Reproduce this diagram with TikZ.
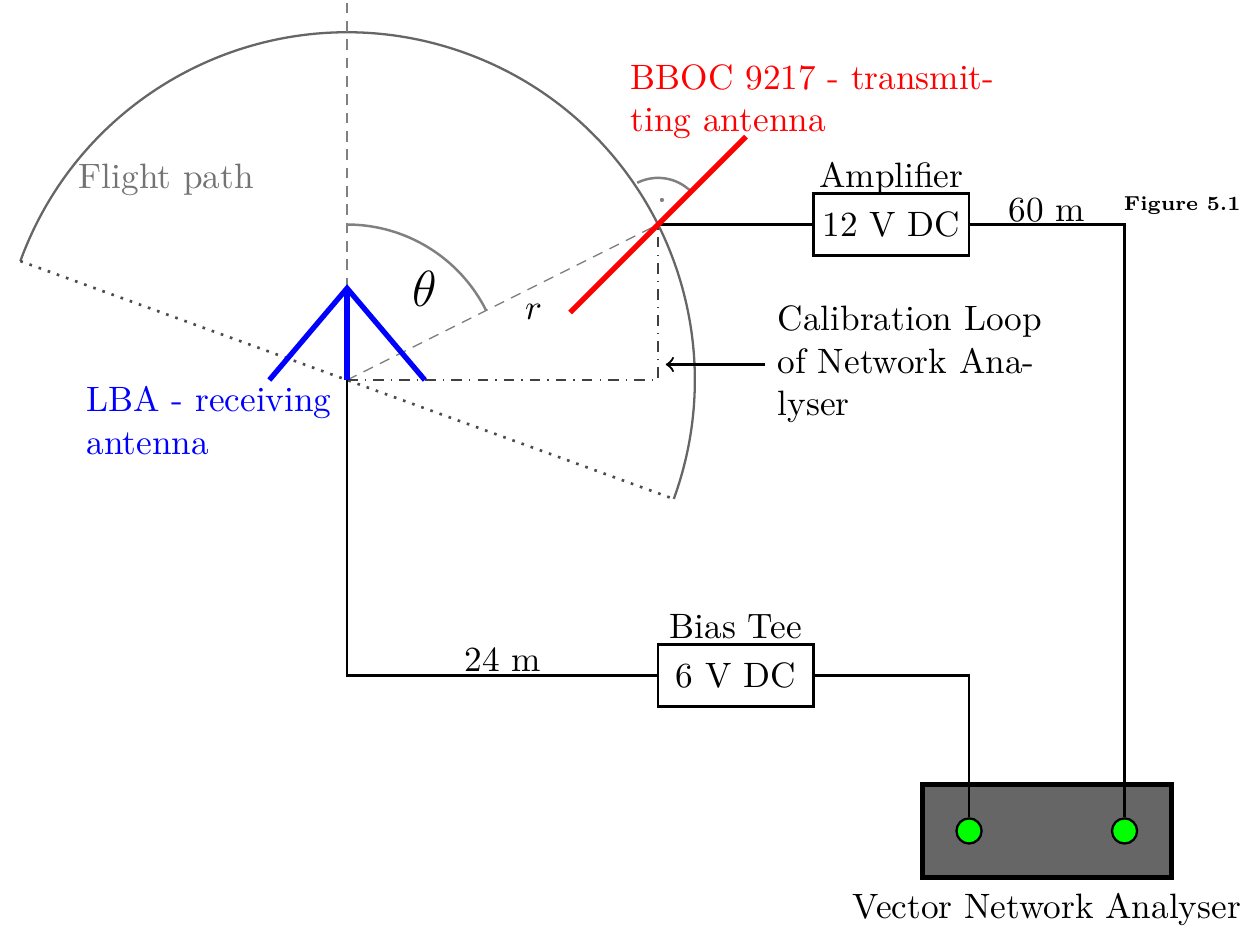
\documentclass[tikz,border=0pt]{standalone}
\usepackage{xcolor}
\usetikzlibrary{calc}
\tikzset{
  flightarc/.style={black!60,line width=0.65pt},
  flightedge/.style={black!70,line width=0.75pt,dotted},
  anglearc/.style={gray,line width=0.7pt},
  guide/.style={gray,line width=0.4pt,dash pattern=on 3pt off 2.2pt},
  loopline/.style={black!75,line width=0.4pt,dash dot},
  antenna/.style={line width=1.5pt},
  cable/.style={black,line width=0.65pt},
  supply/.style={draw=black,line width=0.65pt,fill=white,minimum width=1.55cm,minimum height=0.62cm,inner sep=0pt},
  port/.style={circle,draw=black,fill=green,line width=0.65pt,minimum size=2.5mm,inner sep=0pt},
  vna/.style={draw=black,fill=black!60,line width=1.35pt,minimum width=2.48cm,minimum height=0.93cm,inner sep=0pt},
}
\begin{document}
\begin{tikzpicture}[x=1.55cm,y=1.55cm,>=to]
  \useasboundingbox (-2.232,-3.518) rectangle (5.749,2.444);
  \coordinate (lba) at (0,0);
  \coordinate (apex) at (0,0.59);
  \coordinate (legL) at (-0.5,0);
  \coordinate (legR) at (0.5,0);
  \coordinate (bboc) at (2,1);
  \coordinate (flightL) at (160:2.236);
  \coordinate (flightR) at (-20:2.236);
  \coordinate (zenith) at (0,2.444);
  \coordinate (corner) at (2,0);
  \coordinate (loopTip) at (2.05,0.1);

  % flight path and angles
  \draw[flightarc] (flightL) arc (160:-20:2.236);
  \draw[flightedge] (flightL) -- (flightR);
  \draw[guide] (apex) -- (zenith);
  \draw[guide] (lba) -- (bboc);
  \draw[anglearc] (0,1) arc (90:26.57:1);
  \draw[anglearc] ($(bboc)+(116.57:0.3)$) arc (116.57:45:0.3);
  \fill[gray] ($(bboc)+(81:0.16)$) circle (0.6pt);
  \draw[loopline] (lba) -- (corner) -- (bboc);

  % boxes
  \node[supply] (amp) at (3.5,1) {12 V DC};
  \node[supply] (tee) at (2.5,-1.9) {6 V DC};
  \node[vna] (analyser) at (4.5,-2.9) {};
  \node[port] (portA) at (4,-2.9) {};
  \node[port] (portB) at (5,-2.9) {};

  % cables
  \draw[cable] (bboc) -- (amp);
  \draw[cable] (amp) -| (portB);
  \draw[cable] (lba) |- (tee);
  \draw[cable] (tee) -| (portA);

  % antennas
  \draw[antenna,red] (bboc) ++(-135:0.8) coordinate (bbocA) -- ($(bboc)+(45:0.8)$);
  \draw[antenna,blue] (legL) -- (apex) -- (legR);
  \draw[antenna,blue] (apex) -- (lba);

  % labels
  \node[black!55,anchor=west] (flightlabel) at (-1.805,1.29) {Flight path};
  \node[font=\Large] (theta) at (0.5,0.585) {$\theta$};
  \node (rlabel) at (1.2,0.44) {$r$};
  \node[red,anchor=west,align=left] (bboclabel) at (1.745,1.79) {BBOC 9217 - transmit-\\ting antenna};
  \node[blue,anchor=west,align=left] (lbalabel) at (-1.755,-0.26) {LBA - receiving\\antenna};
  \node[anchor=west,align=left] (calib) at (2.69,0.10) {Calibration Loop\\of Network Ana-\\lyser};
  \draw[cable,->] (calib.west) -- (calib.west -| loopTip);
  \node[anchor=base,yshift=1.3pt] (amplabel) at (amp.north) {Amplifier};
  \node[anchor=base,yshift=1.3pt] (teelabel) at (tee.north) {Bias Tee};
  \node (m60) at (4.5,1.095) {60 m};
  \node (m24) at (1,-1.795) {24 m};
  \node (vnalabel) at (4.5,-3.405) {Vector Network Analyser};
  \node[font=\scriptsize\bfseries,scale=0.82,anchor=east,inner sep=0pt] (figlabel) at (5.749,1.12) {Figure 5.1};
\end{tikzpicture}
\end{document}
